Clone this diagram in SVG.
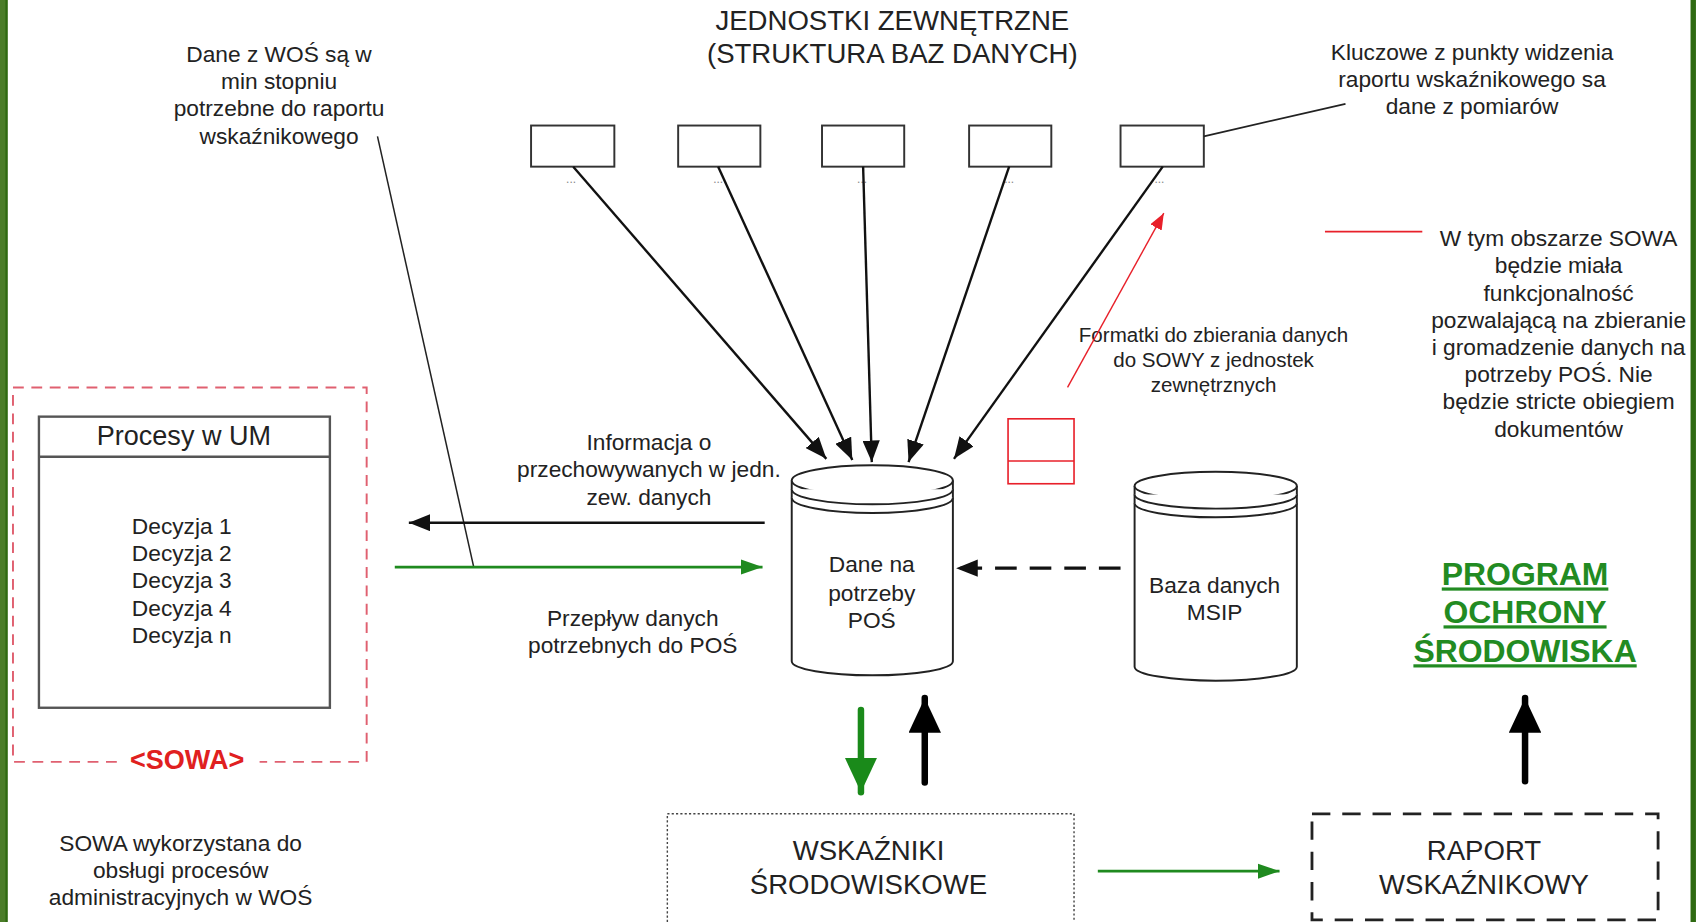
<svg xmlns="http://www.w3.org/2000/svg" width="1696" height="922" viewBox="0 0 1696 922">
<defs>
<style>
text{font-family:"Liberation Sans",Arial,sans-serif;fill:#222;text-anchor:middle}
.t18{font-size:21px}
.t22{font-size:25px}
.t24{font-size:25.5px}
.dots{font-size:11px;fill:#888}
.box{fill:#fff;stroke:#333;stroke-width:1.8}
.cyl{fill:#fff;stroke:#222;stroke-width:1.8}
.blk{stroke:#111;stroke-width:2.2;fill:none}
.grn{stroke:#1f8a1f;stroke-width:2.6;fill:none}
.red{stroke:#e8202a;stroke-width:1.3;fill:none}
</style>
<marker id="ab" markerUnits="userSpaceOnUse" markerWidth="22" markerHeight="16" refX="20" refY="8" orient="auto"><path d="M0,0 L20,8 L0,16 Z" fill="#111"/></marker>
<marker id="ag" markerUnits="userSpaceOnUse" markerWidth="22" markerHeight="16" refX="20" refY="8" orient="auto"><path d="M0,1 L20,8 L0,15 Z" fill="#1f8a1f"/></marker>
<marker id="ar" markerUnits="userSpaceOnUse" markerWidth="16" markerHeight="12" refX="15" refY="6" orient="auto"><path d="M0,0 L15,6 L0,12 Z" fill="#e8202a"/></marker>
<marker id="abig" markerUnits="userSpaceOnUse" markerWidth="34" markerHeight="30" refX="32" refY="15" orient="auto"><path d="M0,0 L32,15 L0,30 Z" fill="#000"/></marker>
<marker id="gbig" markerUnits="userSpaceOnUse" markerWidth="34" markerHeight="30" refX="32" refY="15" orient="auto"><path d="M0,0 L32,15 L0,30 Z" fill="#1a8a1a"/></marker>
</defs>
<rect width="1696" height="922" fill="#fff"/>
<g transform="scale(1.0816,1.0822)">
<g id="frame">
<rect x="0" y="0" width="7" height="852" fill="#4b7d29"/>
<rect x="5" y="0" width="2" height="852" fill="#2f6a12"/>
<rect x="1563" y="0" width="5" height="852" fill="#2f6a12"/>
</g>

<g id="title">
<text class="t24" x="825" y="28">JEDNOSTKI ZEWNĘTRZNE</text>
<text class="t24" x="825" y="58">(STRUKTURA BAZ DANYCH)</text>
</g>

<g id="unit1"><rect class="box" x="491" y="116" width="77" height="38"/><text class="dots" x="528" y="169">...</text></g>
<g id="unit2"><rect class="box" x="627" y="116" width="76" height="38"/><text class="dots" x="664" y="169">...</text></g>
<g id="unit3"><rect class="box" x="760" y="116" width="76" height="38"/><text class="dots" x="797" y="169">...</text></g>
<g id="unit4"><rect class="box" x="896" y="116" width="76" height="38"/><text class="dots" x="933" y="169">...</text></g>
<g id="unit5"><rect class="box" x="1036" y="116" width="77" height="38"/><text class="dots" x="1072" y="169">...</text></g>

<g id="note-wos">
<text class="t18" x="258" y="57">Dane z WOŚ są w</text>
<text class="t18" x="258" y="82">min stopniu</text>
<text class="t18" x="258" y="107">potrzebne do raportu</text>
<text class="t18" x="258" y="133">wskaźnikowego</text>
</g>

<g id="note-kluczowe">
<text class="t18" x="1361" y="55">Kluczowe z punkty widzenia</text>
<text class="t18" x="1361" y="80">raportu wskaźnikowego sa</text>
<text class="t18" x="1361" y="105">dane z pomiarów</text>
</g>

<g id="note-obszar">
<line x1="1225" y1="214" x2="1315" y2="214" stroke="#e8202a" stroke-width="1.6"/>
<text class="t18" x="1441" y="227">W tym obszarze SOWA</text>
<text class="t18" x="1441" y="252">będzie miała</text>
<text class="t18" x="1441" y="278">funkcjonalność</text>
<text class="t18" x="1441" y="303">pozwalającą na zbieranie</text>
<text class="t18" x="1441" y="328">i gromadzenie danych na</text>
<text class="t18" x="1441" y="353">potrzeby POŚ. Nie</text>
<text class="t18" x="1441" y="378">będzie stricte obiegiem</text>
<text class="t18" x="1441" y="404">dokumentów</text>
</g>

<g id="formatki">
<rect x="932" y="387" width="61" height="60" fill="#fff" stroke="#e8202a" stroke-width="1.5"/>
<line x1="932" y1="426" x2="993" y2="426" stroke="#e8202a" stroke-width="1.5"/>
<text x="1122" y="316" style="font-size:19px">Formatki do zbierania danych</text>
<text x="1122" y="339" style="font-size:19px">do SOWY z jednostek</text>
<text x="1122" y="362" style="font-size:19px">zewnętrznych</text>
</g>

<g id="db-pos">
<path class="cyl" d="M732,444 L732,611 A74.5,13 0 0 0 881,611 L881,444"/>
<ellipse class="cyl" cx="806.5" cy="444" rx="74.5" ry="14"/>
<path class="cyl" d="M732,452 A74.5,14 0 0 0 881,452 M732,460 A74.5,14 0 0 0 881,460"/>
<text class="t18" x="806" y="529">Dane na</text>
<text class="t18" x="806" y="555">potrzeby</text>
<text class="t18" x="806" y="580">POŚ</text>
</g>

<g id="db-msip">
<path class="cyl" d="M1049,449 L1049,616 A75,13 0 0 0 1199,616 L1199,449"/>
<ellipse class="cyl" cx="1124" cy="449" rx="75" ry="13"/>
<path class="cyl" d="M1049,457 A75,13 0 0 0 1199,457 M1049,465 A75,13 0 0 0 1199,465"/>
<text class="t18" x="1123" y="548">Baza danych</text>
<text class="t18" x="1123" y="573">MSIP</text>
</g>

<g id="sowa">
<path d="M108,704 L12,704 L12,358 L339,358 L339,704 L240,704" fill="none" stroke="#e06070" stroke-width="1.8" stroke-dasharray="10,7"/>
<text x="173" y="711" style="font-size:25px;font-weight:bold;fill:#e02020">&lt;SOWA&gt;</text>
</g>

<g id="procesy">
<rect x="36" y="385" width="269" height="269" fill="#fff" stroke="#555" stroke-width="2.2"/>
<line x1="36" y1="422" x2="305" y2="422" stroke="#555" stroke-width="2.2"/>
<text class="t22" x="170" y="411">Procesy w UM</text>
<text class="t18" x="168" y="493">Decyzja 1</text>
<text class="t18" x="168" y="518">Decyzja 2</text>
<text class="t18" x="168" y="543">Decyzja 3</text>
<text class="t18" x="168" y="569">Decyzja 4</text>
<text class="t18" x="168" y="594">Decyzja n</text>
</g>

<g id="note-sowa">
<text class="t18" x="167" y="786">SOWA wykorzystana do</text>
<text class="t18" x="167" y="811">obsługi procesów</text>
<text class="t18" x="167" y="836">administracyjnych w WOŚ</text>
</g>

<g id="labels-flow">
<text class="t18" x="600" y="416">Informacja o</text>
<text class="t18" x="600" y="441">przechowywanych w jedn.</text>
<text class="t18" x="600" y="467">zew. danych</text>
<text class="t18" x="585" y="578">Przepływ danych</text>
<text class="t18" x="585" y="603">potrzebnych do POŚ</text>
</g>

<g id="wskazniki">
<rect x="617" y="752" width="376" height="110" fill="#fff" stroke="#444" stroke-width="1.3" stroke-dasharray="2,2"/>
<text class="t24" x="803" y="795">WSKAŹNIKI</text>
<text class="t24" x="803" y="826">ŚRODOWISKOWE</text>
</g>

<g id="raport">
<rect x="1213" y="752" width="320" height="98" fill="#fff" stroke="#222" stroke-width="2.6" stroke-dasharray="17,11"/>
<text class="t24" x="1372" y="795">RAPORT</text>
<text class="t24" x="1372" y="826">WSKAŹNIKOWY</text>
</g>

<g id="pos-program">
<text x="1410" y="541" style="font-size:29.5px;font-weight:bold;fill:#228b22;text-decoration:underline">PROGRAM</text>
<text x="1410" y="576" style="font-size:29.5px;font-weight:bold;fill:#228b22;text-decoration:underline">OCHRONY</text>
<text x="1410" y="612" style="font-size:29.5px;font-weight:bold;fill:#228b22;text-decoration:underline">ŚRODOWISKA</text>
</g>

<g id="connectors">
<line class="blk" x1="530" y1="154" x2="764" y2="424" marker-end="url(#ab)"/>
<line class="blk" x1="664" y1="154" x2="788" y2="425" marker-end="url(#ab)"/>
<line class="blk" x1="798" y1="154" x2="806" y2="427" marker-end="url(#ab)"/>
<line class="blk" x1="933" y1="154" x2="840" y2="427" marker-end="url(#ab)"/>
<line class="blk" x1="1075" y1="154" x2="882" y2="424" marker-end="url(#ab)"/>
<line x1="1113" y1="126" x2="1244" y2="96" stroke="#222" stroke-width="1.6"/>
<line x1="349" y1="126" x2="438" y2="524" stroke="#222" stroke-width="1.4"/>
<line class="red" x1="987" y1="358" x2="1076" y2="197" marker-end="url(#ar)"/>
<line class="blk" x1="707" y1="483" x2="378" y2="483" marker-end="url(#ab)"/>
<line class="grn" x1="365" y1="524" x2="705" y2="524" marker-end="url(#ag)"/>
<line x1="1036" y1="525" x2="884" y2="525" stroke="#111" stroke-width="3" stroke-dasharray="20,12" marker-end="url(#ab)"/>
<line x1="796" y1="656" x2="796" y2="732" stroke="#1a8a1a" stroke-width="6" stroke-linecap="round" marker-end="url(#gbig)"/>
<line x1="855" y1="723" x2="855" y2="645" stroke="#000" stroke-width="6" stroke-linecap="round" marker-end="url(#abig)"/>
<line x1="1410" y1="722" x2="1410" y2="645" stroke="#000" stroke-width="6" stroke-linecap="round" marker-end="url(#abig)"/>
<line class="grn" x1="1015" y1="805" x2="1183" y2="805" marker-end="url(#ag)"/>
</g>
</g>
</svg>
